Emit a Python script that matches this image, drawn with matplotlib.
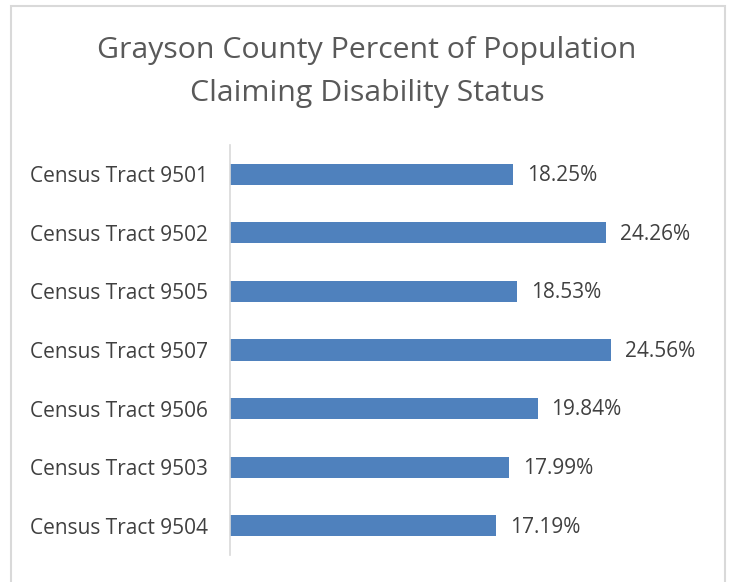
import matplotlib.pyplot as plt
from matplotlib.patches import Rectangle

tracts = ['Census Tract 9501', 'Census Tract 9502', 'Census Tract 9505', 'Census Tract 9507',
          'Census Tract 9506', 'Census Tract 9503', 'Census Tract 9504']
pct = [18.25, 24.26, 18.53, 24.56, 19.84, 17.99, 17.19]

plt.rcParams['font.family'] = ['Open Sans', 'DejaVu Sans']
W, H = 730, 582
fig = plt.figure(figsize=(W / 100, H / 100), dpi=100)

# chart border (light gray, bottom edge cut off)
fig.patches.append(Rectangle((11 / W, -0.05), (725 - 11) / W, 1.05 - 6 / H,
                             transform=fig.transFigure, fill=False,
                             edgecolor='#d9d9d9', linewidth=1.5))

ax = fig.add_axes([230 / W, 1 - 555 / H, (695 - 230) / W, (555 - 145) / H])
y = list(range(len(tracts)))
ax.barh(y, pct, height=0.36, color='#4f81bd')
ax.set_xlim(0, 30)
ax.set_ylim(len(tracts) - 0.5, -0.5)
ax.set_yticks(y)
ax.set_yticklabels(tracts, fontsize=15, color='#404040')
ax.tick_params(axis='y', length=0, pad=16)
ax.set_xticks([])
for s in ['top', 'right', 'bottom']:
    ax.spines[s].set_visible(False)
ax.spines['left'].set_color('#d9d9d9')
ax.spines['left'].set_linewidth(1.2)

for yi, v in zip(y, pct):
    ax.annotate(f'{v:.2f}%', (v, yi), xytext=(10, -1), textcoords='offset points',
                va='center', ha='left', fontsize=15, color='#404040')

fig.text(367 / W, 1 - 72 / H, 'Grayson County Percent of Population\nClaiming Disability Status',
         ha='center', va='center', fontsize=21.8, color='#595959', linespacing=1.6)

fig.savefig('out.png', dpi=100)
